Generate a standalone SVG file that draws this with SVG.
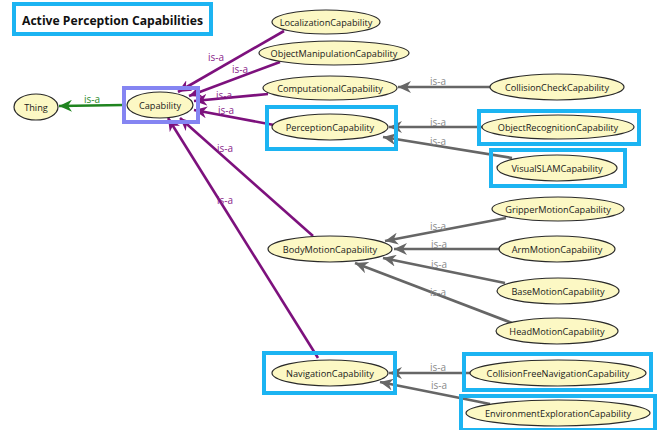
<svg xmlns="http://www.w3.org/2000/svg" width="662" height="430" viewBox="0 0 662 430">
<style>
.n ellipse{fill:#fcf8c4;stroke:#2a2a2a;stroke-width:1.2}
.n text{font-family:"Open Sans","Noto Sans","DejaVu Sans",sans-serif;font-size:9.2px;fill:#1a1a1a;text-anchor:middle}
.hl{fill:none;stroke:#1cb4f2;stroke-width:4}
.hc{fill:none;stroke:#8585f2;stroke-width:4}
.p{stroke:#7d117d;stroke-width:2.6;fill:none}
.g{stroke:#666;stroke-width:2.6;fill:none}
.gr{stroke:#1f841f;stroke-width:2.6;fill:none}
.lp,.lg,.lgr{font-family:"Open Sans","Noto Sans","DejaVu Sans",sans-serif;font-size:10px}
.lp{fill:#8a248a}.lg{fill:#8a8a8a}.lgr{fill:#2a8a2a}
</style>
<defs>
<marker id="ap" markerUnits="userSpaceOnUse" markerWidth="14" markerHeight="12" refX="13" refY="6" orient="auto"><path d="M0,0 L13,6 L0,12 L4,6 Z" fill="#7d117d"/></marker>
<marker id="ag" markerUnits="userSpaceOnUse" markerWidth="14" markerHeight="12" refX="13" refY="6" orient="auto"><path d="M0,0 L13,6 L0,12 L4,6 Z" fill="#666"/></marker>
<marker id="agr" markerUnits="userSpaceOnUse" markerWidth="14" markerHeight="12" refX="13" refY="6" orient="auto"><path d="M0,0 L13,6 L0,12 L4,6 Z" fill="#1f841f"/></marker>
</defs>
<rect width="662" height="430" fill="#fff"/>
<g id="title">
<rect class="hl" x="14" y="4" width="197" height="30"/>
<text x="22" y="24.5" font-family="'Open Sans','Noto Sans','DejaVu Sans',sans-serif" font-size="12.6" font-weight="bold" fill="#111" textLength="181" lengthAdjust="spacingAndGlyphs">Active Perception Capabilities</text>
</g>
<g id="connectors">
<line class="gr" x1="124" y1="105" x2="59" y2="106" marker-end="url(#agr)"/>
<line class="p" x1="284" y1="31" x2="178" y2="92" marker-end="url(#ap)"/>
<line class="p" x1="280" y1="62" x2="189" y2="96" marker-end="url(#ap)"/>
<line class="p" x1="268" y1="94" x2="194" y2="101" marker-end="url(#ap)"/>
<line class="p" x1="274" y1="125" x2="194" y2="110" marker-end="url(#ap)"/>
<line class="p" x1="313" y1="236" x2="180" y2="118" marker-end="url(#ap)"/>
<line class="p" x1="318" y1="358" x2="168" y2="118" marker-end="url(#ap)"/>
<line class="g" x1="490" y1="87" x2="398" y2="87" marker-end="url(#ag)"/>
<line class="g" x1="482" y1="127" x2="389" y2="127" marker-end="url(#ag)"/>
<line class="g" x1="512" y1="158" x2="383" y2="137" marker-end="url(#ag)"/>
<line class="g" x1="506" y1="218" x2="385" y2="241" marker-end="url(#ag)"/>
<line class="g" x1="500" y1="249" x2="394" y2="249" marker-end="url(#ag)"/>
<line class="g" x1="505" y1="283" x2="383" y2="258" marker-end="url(#ag)"/>
<line class="g" x1="512" y1="323" x2="355" y2="263" marker-end="url(#ag)"/>
<line class="g" x1="470" y1="373" x2="389" y2="373" marker-end="url(#ag)"/>
<line class="g" x1="490" y1="404" x2="380" y2="382" marker-end="url(#ag)"/>
<text class="lgr" x="84" y="103">is-a</text>
<text class="lp" x="208" y="61">is-a</text>
<text class="lp" x="232" y="73">is-a</text>
<text class="lp" x="216" y="99">is-a</text>
<text class="lp" x="218" y="114">is-a</text>
<text class="lp" x="217" y="152">is-a</text>
<text class="lp" x="217" y="204">is-a</text>
<text class="lg" x="430" y="85">is-a</text>
<text class="lg" x="430" y="126">is-a</text>
<text class="lg" x="430" y="145">is-a</text>
<text class="lg" x="430" y="230">is-a</text>
<text class="lg" x="431" y="248">is-a</text>
<text class="lg" x="431" y="268">is-a</text>
<text class="lg" x="430" y="296">is-a</text>
<text class="lg" x="430" y="371">is-a</text>
<text class="lg" x="431" y="389">is-a</text>
</g>
<g id="Thing" class="n"><ellipse cx="36" cy="107" rx="22" ry="13"/><text x="36" y="110.5">Thing</text></g>
<g id="Capability" class="n"><ellipse cx="160" cy="105" rx="33" ry="13"/><text x="160" y="108.5">Capability</text><rect class="hc" x="124" y="88" width="74" height="34"/></g>
<g id="LocalizationCapability" class="n"><ellipse cx="326" cy="22" rx="54" ry="12"/><text x="326" y="25.5">LocalizationCapability</text></g>
<g id="ObjectManipulationCapability" class="n"><ellipse cx="334" cy="53" rx="75" ry="12"/><text x="334" y="56.5">ObjectManipulationCapability</text></g>
<g id="ComputationalCapability" class="n"><ellipse cx="330" cy="88" rx="67" ry="12"/><text x="330" y="91.5">ComputationalCapability</text></g>
<g id="CollisionCheckCapability" class="n"><ellipse cx="557" cy="87" rx="67" ry="13"/><text x="557" y="90.5">CollisionCheckCapability</text></g>
<g id="PerceptionCapability" class="n"><ellipse cx="330" cy="127" rx="58" ry="13"/><text x="330" y="130.5">PerceptionCapability</text><rect class="hl" x="267" y="107" width="129" height="42"/></g>
<g id="ObjectRecognitionCapability" class="n"><ellipse cx="558" cy="127" rx="76" ry="12"/><text x="558" y="130.5">ObjectRecognitionCapability</text><rect class="hl" x="479" y="111" width="160" height="33"/></g>
<g id="VisualSLAMCapability" class="n"><ellipse cx="557" cy="168" rx="60" ry="13"/><text x="557" y="171.5">VisualSLAMCapability</text><rect class="hl" x="491" y="150" width="134" height="36"/></g>
<g id="GripperMotionCapability" class="n"><ellipse cx="558" cy="209" rx="66" ry="12"/><text x="558" y="212.5">GripperMotionCapability</text></g>
<g id="BodyMotionCapability" class="n"><ellipse cx="330" cy="249" rx="62" ry="13"/><text x="330" y="252.5">BodyMotionCapability</text></g>
<g id="ArmMotionCapability" class="n"><ellipse cx="557" cy="249" rx="58" ry="13"/><text x="557" y="252.5">ArmMotionCapability</text></g>
<g id="BaseMotionCapability" class="n"><ellipse cx="558" cy="291" rx="61" ry="13"/><text x="558" y="294.5">BaseMotionCapability</text></g>
<g id="HeadMotionCapability" class="n"><ellipse cx="557" cy="331" rx="61" ry="13"/><text x="557" y="334.5">HeadMotionCapability</text></g>
<g id="NavigationCapability" class="n"><ellipse cx="330" cy="373" rx="58" ry="13"/><text x="330" y="376.5">NavigationCapability</text><rect class="hl" x="264" y="353" width="131" height="40"/></g>
<g id="CollisionFreeNavigationCapability" class="n"><ellipse cx="558" cy="373" rx="88" ry="13"/><text x="558" y="376.5">CollisionFreeNavigationCapability</text><rect class="hl" x="464" y="354" width="187" height="36"/></g>
<g id="EnvironmentExplorationCapability" class="n"><ellipse cx="558" cy="413" rx="92" ry="13"/><text x="558" y="416.5">EnvironmentExplorationCapability</text><rect class="hl" x="461" y="396" width="194" height="34"/></g>
</svg>
